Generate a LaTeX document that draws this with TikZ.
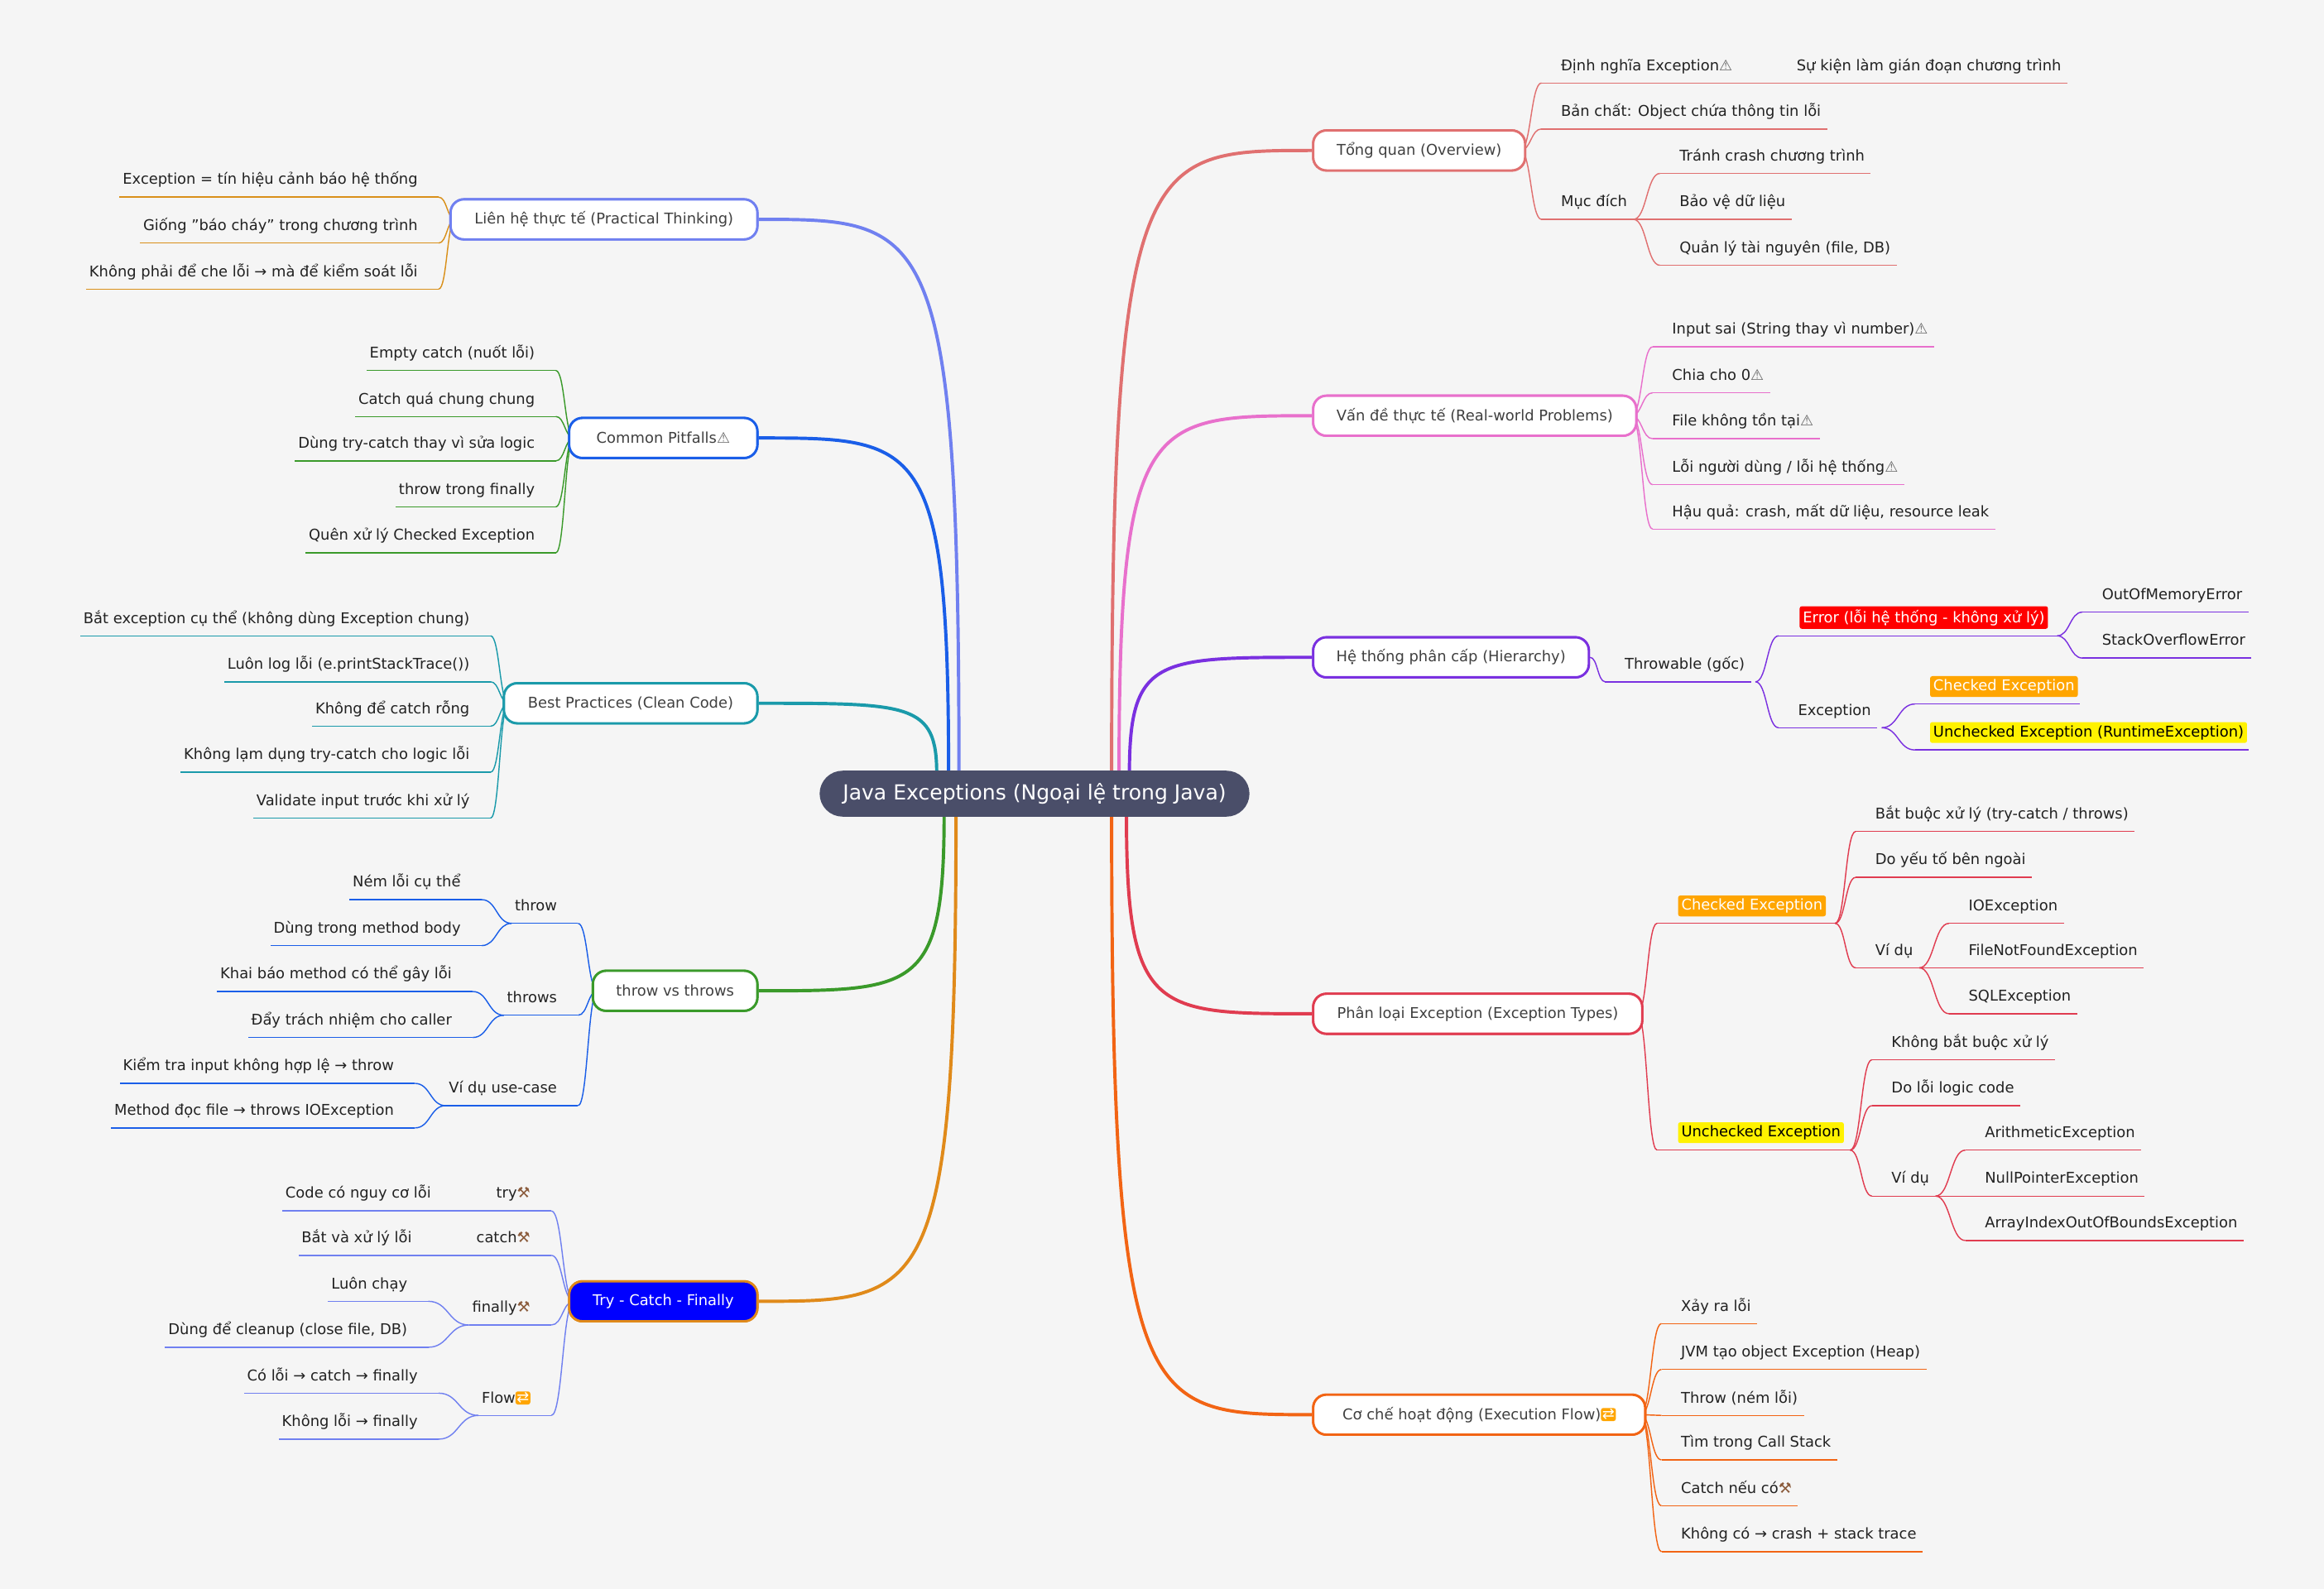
\documentclass[tikz,border=0pt]{standalone}
\usepackage{fontspec}
\setmainfont{DejaVu Sans}
\usetikzlibrary{calc}
\definecolor{bg}{HTML}{F5F5F5}
\definecolor{cOv}{HTML}{E07070}
\definecolor{cRw}{HTML}{E870CC}
\definecolor{cHi}{HTML}{7A30E0}
\definecolor{cTy}{HTML}{E03C50}
\definecolor{cFl}{HTML}{F26414}
\definecolor{cPr}{HTML}{7080F0}
\definecolor{cPi}{HTML}{1A5EE8}
\definecolor{cBp}{HTML}{1A9AAA}
\definecolor{cTw}{HTML}{3A9A2A}
\definecolor{cTc}{HTML}{E08A1A}
\definecolor{cAm}{HTML}{D9901A}
\definecolor{txt}{HTML}{222222}
\definecolor{root}{HTML}{4A4E69}
\definecolor{tagor}{HTML}{FFA500}
\newcommand\warn{\textcolor{black!60}{⚠}}
\newcommand\tools{\textcolor[HTML]{8A5A3A}{⚒}}
\newsavebox\repbox
\sbox\repbox{\tikz[baseline=-0.6ex]{\node[fill=tagor,rounded corners=1.5pt,inner sep=0.8pt,text=white,font=\fontsize{10}{10}\selectfont]{⇄};}}
\newcommand\rep{\usebox\repbox}
\tikzset{
  leaf/.style={inner sep=0pt,text=txt,font=\fontsize{10}{12}\selectfont},
  box/.style={draw,line width=1.6pt,fill=white,rounded corners=9pt,text=black!75,font=\fontsize{10}{12}\selectfont,minimum height=27pt,inner sep=0pt},
  tag/.style={rounded corners=1.5pt,inner sep=2.2pt,font=\fontsize{10}{12}\selectfont},
  br/.style={line width=2.2pt},
  ln/.style={line width=0.8pt},
}
\newcommand\RL[5]{%
  \node[leaf,anchor=base west] (#1) at (#3+13,#4-8.5) {#5};
  \coordinate (#1s) at (#3,#4);
  \draw[ln,#2] (#1s) -- ($(#1s -| #1.east)+(4,0)$);}
\newcommand\LL[5]{%
  \node[leaf,anchor=base east] (#1) at (#3-14,#4-8.5) {#5};
  \coordinate (#1s) at (#3,#4);
  \draw[ln,#2] (#1s) -- ($(#1s -| #1.west)+(-2,0)$);}
\newcommand\LK[3]{%
  \draw[ln,#1] let \p1=(#2), \p2=(#3) in (\p1) .. controls ({(\x1+\x2)/2},\y1) and ({(\x1+\x2)/2},\y2) .. (\p2);}
\newcommand\BR[3]{%
  \draw[br,#1] let \p1=(#2), \p2=(#3) in (\p1) .. controls (\x1,\y2) and ({\x1+0.15*(\x2-\x1)},\y2) .. (\p2);}
\begin{document}
\begin{tikzpicture}[x=1pt,y=-1pt]
\fill[bg] (0,0) rectangle (1568,1072);
\useasboundingbox (0,0) rectangle (1568,1072);

\node[box,draw=cOv,minimum width=143pt] (ov) at (957.5,101.5) {};
\node[box,draw=cRw,minimum width=218pt] (rw) at (995,280.5) {};
\node[box,draw=cHi,minimum width=186pt] (hi) at (979,443.5) {};
\node[box,draw=cTy,minimum width=222pt] (ty) at (997,684) {};
\node[box,draw=cFl,minimum width=224pt] (fl) at (998,954.5) {};
\node[box,draw=cPr,minimum width=207pt] (pr) at (407.5,148) {};
\node[box,draw=cPi,minimum width=127pt] (pi) at (447.5,295.5) {};
\node[box,draw=cBp,minimum width=171pt] (bp) at (425.5,474.5) {};
\node[box,draw=cTw,minimum width=111pt] (tw) at (455.5,668.5) {};
\node[box,draw=cTc,fill=blue,minimum width=127pt] (tc) at (447.5,878) {};

\coordinate (r1) at (750,522); \coordinate (r2) at (755,522); \coordinate (r3) at (762,522);
\coordinate (r4) at (760,549); \coordinate (r5) at (750,549);
\coordinate (l1) at (647,522); \coordinate (l2) at (640,522); \coordinate (l3) at (632,522);
\coordinate (l4) at (637,549); \coordinate (l5) at (645,549);
\BR{cOv}{r1}{ov.west} \BR{cRw}{r2}{rw.west} \BR{cHi}{r3}{hi.west}
\BR{cTy}{r4}{ty.west} \BR{cFl}{r5}{fl.west}
\BR{cPr}{l1}{pr.east} \BR{cPi}{l2}{pi.east} \BR{cBp}{l3}{bp.east}
\BR{cTw}{l4}{tw.east} \BR{cTc}{l5}{tc.east}
\node[fill=root,rounded corners=15.5pt,minimum width=290pt,minimum height=31pt,text=white,font=\fontsize{14}{16}\selectfont] (root) at (698,535.5) {Java Exceptions (Ngoại lệ trong Java)};

% ---------- Overview
\RL{ov1}{cOv}{1040}{56}{Định nghĩa Exception\warn}
\RL{ov11}{cOv}{1199}{56}{Sự kiện làm gián đoạn chương trình}
\draw[ln,cOv] (ov1s) -- (ov11s);
\RL{ov2}{cOv}{1040}{87}{Bản chất: Object chứa thông tin lỗi}
\RL{ov3}{cOv}{1040}{148}{Mục đích}
\RL{ov31}{cOv}{1120}{117}{Tránh crash chương trình}
\RL{ov32}{cOv}{1120}{148}{Bảo vệ dữ liệu}
\RL{ov33}{cOv}{1120}{179}{Quản lý tài nguyên (file, DB)}
\coordinate (ovA) at ($(ov.east)+(-4,0)$);
\LK{cOv}{ovA}{ov1s} \LK{cOv}{ovA}{ov2s} \LK{cOv}{ovA}{ov3s}
\coordinate (ov3e) at ($(ov3s -| ov3.east)+(4,0)$);
\LK{cOv}{ov3e}{ov31s} \LK{cOv}{ov3e}{ov32s} \LK{cOv}{ov3e}{ov33s}

% ---------- Real-world
\RL{rw1}{cRw}{1115}{234}{Input sai (String thay vì number)\warn}
\RL{rw2}{cRw}{1115}{265}{Chia cho 0\warn}
\RL{rw3}{cRw}{1115}{296}{File không tồn tại\warn}
\RL{rw4}{cRw}{1115}{327}{Lỗi người dùng / lỗi hệ thống\warn}
\RL{rw5}{cRw}{1115}{357}{Hậu quả: crash, mất dữ liệu, resource leak}
\coordinate (rwA) at ($(rw.east)+(-4,0)$);
\foreach \i in {1,...,5}{\LK{cRw}{rwA}{rw\i s}}

% ---------- Hierarchy
\RL{hi1}{cHi}{1083}{460}{Throwable (gốc)}
\LK{cHi}{hi.east}{hi1s}
\coordinate (hi1e) at ($(hi1s -| hi1.east)+(7,0)$);
\node[tag,fill=red,text=white,anchor=base west] (err) at (1214,420) {Error (lỗi hệ thống - không xử lý)};
\coordinate (errs) at (1200,429); \coordinate (erre) at ($(errs -| err.east)+(6,0)$);
\draw[ln,cHi] (errs) -- (erre);
\RL{hi2}{cHi}{1200}{491}{Exception}
\LK{cHi}{hi1e}{errs} \LK{cHi}{hi1e}{hi2s}
\RL{e1}{cHi}{1405}{413}{OutOfMemoryError}
\RL{e2}{cHi}{1405}{444}{StackOverflowError}
\LK{cHi}{erre}{e1s} \LK{cHi}{erre}{e2s}
\coordinate (hi2e) at ($(hi2s -| hi2.east)+(7,0)$);
\node[tag,fill=tagor,text=white,anchor=base west] (hck) at (1302,466) {Checked Exception};
\coordinate (hcks) at (1292,475);
\draw[ln,cHi] (hcks) -- ($(hcks -| hck.east)+(1,0)$);
\node[tag,fill=yellow,text=black,anchor=base west] (hun) at (1302,497) {Unchecked Exception (RuntimeException)};
\coordinate (huns) at (1292,506);
\draw[ln,cHi] (huns) -- ($(huns -| hun.east)+(1,0)$);
\LK{cHi}{hi2e}{hcks} \LK{cHi}{hi2e}{huns}

% ---------- Types
\coordinate (tyA) at ($(ty.east)+(-4,0)$);
\node[tag,fill=tagor,text=white,anchor=base west] (tck) at (1132,614) {Checked Exception};
\coordinate (tcks) at (1118,623); \coordinate (tcke) at ($(tcks -| tck.east)+(6,0)$);
\draw[ln,cTy] (tcks) -- (tcke);
\node[tag,fill=yellow,text=black,anchor=base west] (tun) at (1132,767) {Unchecked Exception};
\coordinate (tuns) at (1118,776); \coordinate (tune) at ($(tuns -| tun.east)+(4,0)$);
\draw[ln,cTy] (tuns) -- (tune);
\LK{cTy}{tyA}{tcks} \LK{cTy}{tyA}{tuns}
\RL{c1}{cTy}{1252}{561}{Bắt buộc xử lý (try-catch / throws)}
\RL{c2}{cTy}{1252}{592}{Do yếu tố bên ngoài}
\RL{c3}{cTy}{1252}{653}{Ví dụ}
\LK{cTy}{tcke}{c1s} \LK{cTy}{tcke}{c2s} \LK{cTy}{tcke}{c3s}
\coordinate (c3e) at ($(c3s -| c3.east)+(4,0)$);
\RL{c31}{cTy}{1315}{623}{IOException}
\RL{c32}{cTy}{1315}{653}{FileNotFoundException}
\RL{c33}{cTy}{1315}{684}{SQLException}
\LK{cTy}{c3e}{c31s} \LK{cTy}{c3e}{c32s} \LK{cTy}{c3e}{c33s}
\RL{u1}{cTy}{1263}{715}{Không bắt buộc xử lý}
\RL{u2}{cTy}{1263}{746}{Do lỗi logic code}
\RL{u3}{cTy}{1263}{807}{Ví dụ}
\LK{cTy}{tune}{u1s} \LK{cTy}{tune}{u2s} \LK{cTy}{tune}{u3s}
\coordinate (u3e) at ($(u3s -| u3.east)+(4,0)$);
\RL{u31}{cTy}{1326}{776}{ArithmeticException}
\RL{u32}{cTy}{1326}{807}{NullPointerException}
\RL{u33}{cTy}{1326}{837}{ArrayIndexOutOfBoundsException}
\LK{cTy}{u3e}{u31s} \LK{cTy}{u3e}{u32s} \LK{cTy}{u3e}{u33s}

% ---------- Flow
\RL{f1}{cFl}{1121}{893}{Xảy ra lỗi}
\RL{f2}{cFl}{1121}{924}{JVM tạo object Exception (Heap)}
\RL{f3}{cFl}{1121}{955}{Throw (ném lỗi)}
\RL{f4}{cFl}{1121}{985}{Tìm trong Call Stack}
\RL{f5}{cFl}{1121}{1016}{Catch nếu có\tools}
\RL{f6}{cFl}{1121}{1047}{Không có → crash + stack trace}
\coordinate (flA) at ($(fl.east)+(-4,0)$);
\foreach \i in {1,...,6}{\LK{cFl}{flA}{f\i s}}

% ---------- Practical
\LL{p1}{cAm}{296}{133}{Exception = tín hiệu cảnh báo hệ thống}
\LL{p2}{cAm}{296}{164}{Giống \symbol{34}báo cháy\symbol{34} trong chương trình}
\LL{p3}{cAm}{296}{195}{Không phải để che lỗi → mà để kiểm soát lỗi}
\coordinate (prA) at ($(pr.west)+(4,0)$);
\foreach \i in {1,2,3}{\LK{cAm}{prA}{p\i s}}

% ---------- Pitfalls
\LL{q1}{cTw}{375}{250}{Empty catch (nuốt lỗi)}
\LL{q2}{cTw}{375}{281}{Catch quá chung chung}
\LL{q3}{cTw}{375}{311}{Dùng try-catch thay vì sửa logic}
\LL{q4}{cTw}{375}{342}{throw trong finally}
\LL{q5}{cTw}{375}{373}{Quên xử lý Checked Exception}
\coordinate (piA) at ($(pi.west)+(4,0)$);
\foreach \i in {1,...,5}{\LK{cTw}{piA}{q\i s}}

% ---------- Best practices
\LL{b1}{cBp}{331}{429}{Bắt exception cụ thể (không dùng Exception chung)}
\LL{b2}{cBp}{331}{460}{Luôn log lỗi (e.printStackTrace())}
\LL{b3}{cBp}{331}{490}{Không để catch rỗng}
\LL{b4}{cBp}{331}{521}{Không lạm dụng try-catch cho logic lỗi}
\LL{b5}{cBp}{331}{552}{Validate input trước khi xử lý}
\coordinate (bpA) at ($(bp.west)+(4,0)$);
\foreach \i in {1,...,5}{\LK{cBp}{bpA}{b\i s}}

% ---------- throw vs throws
\coordinate (twA) at ($(tw.west)+(4,0)$);
\LL{t1}{cPi}{390}{623}{throw}
\LL{t2}{cPi}{390}{685}{throws}
\LL{t3}{cPi}{390}{746}{Ví dụ use-case}
\foreach \i in {1,2,3}{\LK{cPi}{twA}{t\i s}}
\coordinate (t1w) at ($(t1s -| t1.west)+(-2,0)$);
\coordinate (t2w) at ($(t2s -| t2.west)+(-2,0)$);
\coordinate (t3w) at ($(t3s -| t3.west)+(-2,0)$);
\LL{t11}{cPi}{325}{607}{Ném lỗi cụ thể}
\LL{t12}{cPi}{325}{638}{Dùng trong method body}
\LK{cPi}{t1w}{t11s} \LK{cPi}{t1w}{t12s}
\LL{t21}{cPi}{319}{669}{Khai báo method có thể gây lỗi}
\LL{t22}{cPi}{319}{700}{Đẩy trách nhiệm cho caller}
\LK{cPi}{t2w}{t21s} \LK{cPi}{t2w}{t22s}
\LL{t31}{cPi}{280}{731}{Kiểm tra input không hợp lệ → throw}
\LL{t32}{cPi}{280}{761}{Method đọc file → throws IOException}
\LK{cPi}{t3w}{t31s} \LK{cPi}{t3w}{t32s}

% ---------- Try catch finally
\coordinate (tcA) at ($(tc.west)+(4,0)$);
\LL{k1}{cPr}{372}{817}{try\tools}
\LL{k2}{cPr}{372}{847}{catch\tools}
\LL{k3}{cPr}{372}{894}{finally\tools}
\LL{k4}{cPr}{372}{955}{Flow\rep}
\foreach \i in {1,...,4}{\LK{cPr}{tcA}{k\i s}}
\LL{k11}{cPr}{305}{817}{Code có nguy cơ lỗi}
\draw[ln,cPr] (k11s) -- ($(k1s -| k1.west)+(-2,0)$);
\LL{k21}{cPr}{292}{847}{Bắt và xử lý lỗi}
\draw[ln,cPr] (k21s) -- ($(k2s -| k2.west)+(-2,0)$);
\coordinate (k3w) at ($(k3s -| k3.west)+(-2,0)$);
\LL{k31}{cPr}{289}{878}{Luôn chạy}
\LL{k32}{cPr}{289}{909}{Dùng để cleanup (close file, DB)}
\LK{cPr}{k3w}{k31s} \LK{cPr}{k3w}{k32s}
\coordinate (k4w) at ($(k4s -| k4.west)+(-2,0)$);
\LL{k41}{cPr}{296}{940}{Có lỗi → catch → finally}
\LL{k42}{cPr}{296}{971}{Không lỗi → finally}
\LK{cPr}{k4w}{k41s} \LK{cPr}{k4w}{k42s}

\node[box,draw=cOv,minimum width=143pt] (ovT) at (957.5,101.5) {Tổng quan (Overview)};
\node[box,draw=cRw,minimum width=218pt] (rwT) at (995,280.5) {Vấn đề thực tế (Real-world Problems)};
\node[box,draw=cHi,minimum width=186pt] (hiT) at (979,443.5) {Hệ thống phân cấp (Hierarchy)};
\node[box,draw=cTy,minimum width=222pt] (tyT) at (997,684) {Phân loại Exception (Exception Types)};
\node[box,draw=cFl,minimum width=224pt] (flT) at (998,954.5) {Cơ chế hoạt động (Execution Flow)\rep};
\node[box,draw=cPr,minimum width=207pt] (prT) at (407.5,148) {Liên hệ thực tế (Practical Thinking)};
\node[box,draw=cPi,minimum width=127pt] (piT) at (447.5,295.5) {Common Pitfalls\warn};
\node[box,draw=cBp,minimum width=171pt] (bpT) at (425.5,474.5) {Best Practices (Clean Code)};
\node[box,draw=cTw,minimum width=111pt] (twT) at (455.5,668.5) {throw vs throws};
\node[box,draw=cTc,fill=blue,text=white,minimum width=127pt] (tcT) at (447.5,878) {Try - Catch - Finally};
\end{tikzpicture}
\end{document}
